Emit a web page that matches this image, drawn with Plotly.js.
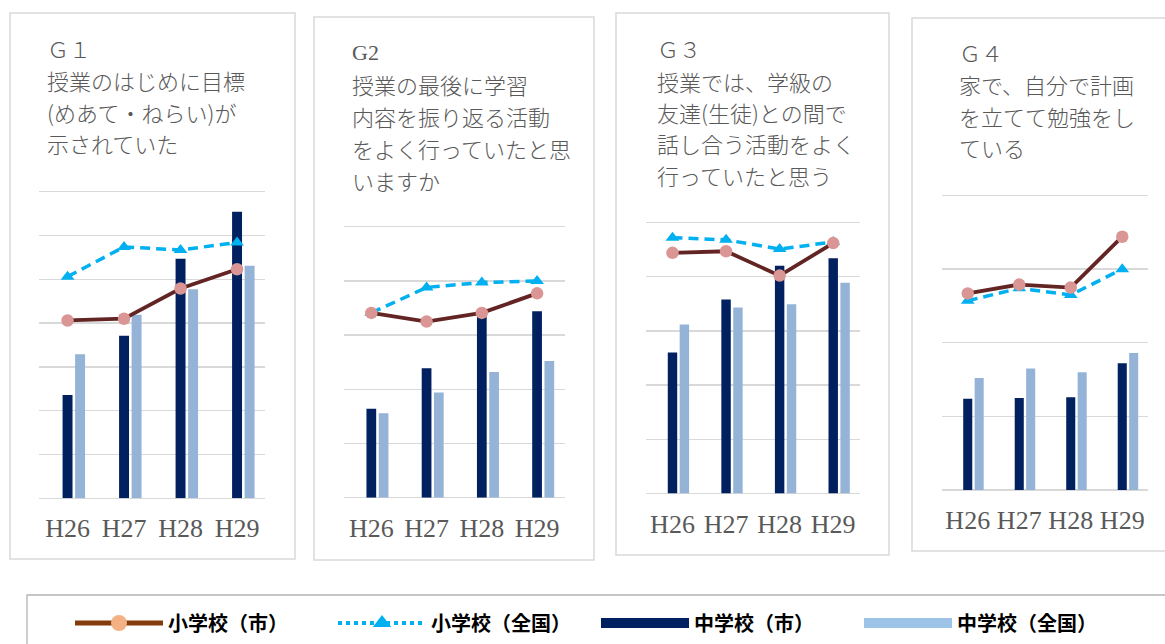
<!DOCTYPE html>
<html>
<head>
<meta charset="utf-8">
<script src="https://cdn.plot.ly/plotly-3.0.1.min.js"></script>
<style>
html,body{margin:0;padding:0;background:#fff;}
#chart{width:1165px;height:644px;}
</style>
</head>
<body>
<div id="chart"></div>
<script>
// ---- data (gridline step = 10) ----
const years = ['H26', 'H27', 'H28', 'H29'];

const g1Title = ['Ｇ１', '授業のはじめに目標', '(めあて・ねらい)が', '示されていた'];
const g1ElemCity = [40.6, 41.0, 47.9, 52.3];
const g1ElemNation = [50.6, 57.4, 56.7, 58.4];
const g1JuniorCity = [23.6, 37.1, 54.7, 65.4];
const g1JuniorNation = [32.9, 41.9, 47.7, 53.1];

const g2Title = ['G2', '授業の最後に学習', '内容を振り返る活動', 'をよく行っていたと思', 'いますか'];
const g2ElemCity = [34.1, 32.5, 34.1, 37.7];
const g2ElemNation = [34.1, 38.8, 39.7, 40.0];
const g2JuniorCity = [16.4, 23.9, 33.7, 34.4];
const g2JuniorNation = [15.6, 19.4, 23.2, 25.2];

const g3Title = ['Ｇ３', '授業では、学級の', '友達(生徒)との間で', '話し合う活動をよく', '行っていたと思う'];
const g3ElemCity = [44.4, 44.7, 40.2, 46.2];
const g3ElemNation = [47.2, 46.8, 45.1, 46.4];
const g3JuniorCity = [26.0, 35.8, 42.0, 43.4];
const g3JuniorNation = [31.2, 34.3, 34.9, 38.9];

const g4Title = ['Ｇ４', '家で、自分で計画', 'を立てて勉強をし', 'ている'];
const g4ElemCity = [26.7, 27.9, 27.5, 34.4];
const g4ElemNation = [25.7, 27.4, 26.5, 30.0];
const g4JuniorCity = [12.4, 12.5, 12.6, 17.2];
const g4JuniorNation = [15.2, 16.5, 16.0, 18.6];

const seriesNames = ['小学校（市）', '小学校（全国）', '中学校（市）', '中学校（全国）'];

// ---- layout helpers ----
const W = 1165, H = 644;
const px = x => x / W;
const py = y => 1 - y / H;

// bar geometry in category units: dark bar centred on the category,
// light bar one slot to the right (as in the original chart)
const BAR_W = 0.176, SLOT = 0.222;
const TOP_PAD = 0.012; // small headroom so the top gridline is drawn

const panels = [
  {title: g1Title, ec: g1ElemCity, en: g1ElemNation, jc: g1JuniorCity, jn: g1JuniorNation,
   x0: 39.3, x1: 265.3, yb: 498.3, yt: 191.7, ymax: 70,
   box: [10, 13, 295, 559], tx: 45, ty: [48, 80, 112, 143]},
  {title: g2Title, ec: g2ElemCity, en: g2ElemNation, jc: g2JuniorCity, jn: g2JuniorNation,
   x0: 343.7, x1: 564.7, yb: 497.7, yt: 226.7, ymax: 50,
   box: [314, 17, 594, 560], tx: 350, ty: [52, 84, 116, 148, 180]},
  {title: g3Title, ec: g3ElemCity, en: g3ElemNation, jc: g3JuniorCity, jn: g3JuniorNation,
   x0: 645.7, x1: 860, yb: 493.5, yt: 222.5, ymax: 50,
   box: [616, 13, 889, 555], tx: 655, ty: [48, 81, 112, 143, 175]},
  {title: g4Title, ec: g4ElemCity, en: g4ElemNation, jc: g4JuniorCity, jn: g4JuniorNation,
   x0: 942, x1: 1148, yb: 490, yt: 195.5, ymax: 40,
   box: [912, 18, 1180, 551], tx: 957, ty: [52, 84, 116, 147]}
];

const COL_EC_LINE = '#632523', COL_EC_MARK = '#d99694';
const COL_EN = '#00b0f0';
const COL_JC = '#002060', COL_JN = '#95b3d7';

const traces = [];
const layout = {
  width: W, height: H,
  margin: {l: 0, r: 0, t: 0, b: 0},
  paper_bgcolor: '#ffffff', plot_bgcolor: 'rgba(0,0,0,0)',
  barmode: 'overlay',
  showlegend: true,
  legend: {
    orientation: 'h', x: px(70), xanchor: 'left', y: py(623), yanchor: 'middle',
    font: {family: 'Noto Sans CJK JP', size: 20, color: '#000000', weight: 'bold'},
    itemwidth: 88, entrywidth: 160, entrywidthmode: 'pixels',
    bgcolor: 'rgba(0,0,0,0)', itemclick: false, itemdoubleclick: false,
    traceorder: 'normal'
  },
  shapes: [], annotations: []
};

panels.forEach((p, i) => {
  const n = i + 1;
  const xa = 'x' + (n === 1 ? '' : n), ya = 'y' + (n === 1 ? '' : n);
  const xKey = 'xaxis' + (n === 1 ? '' : n), yKey = 'yaxis' + (n === 1 ? '' : n);
  const rTop = p.ymax * (1 + TOP_PAD);
  const domTopPx = p.yb - (p.yb - p.yt) * (1 + TOP_PAD);
  layout[xKey] = {
    domain: [px(p.x0), px(p.x1)], anchor: ya, type: 'category',
    categoryarray: years, range: [-0.5, 3.5],
    showgrid: false, zeroline: false, showline: false, ticks: '',
    tickfont: {family: 'Liberation Serif', size: 26, color: '#595959'},
    ticklabelstandoff: 12, fixedrange: true
  };
  layout[yKey] = {
    domain: [py(p.yb), py(domTopPx)], anchor: xa, range: [0, rTop], dtick: 10,
    showticklabels: false, ticks: '', showline: false,
    gridcolor: '#d9d9d9', gridwidth: 1.3,
    zeroline: true, zerolinecolor: '#d9d9d9', zerolinewidth: 1.3, fixedrange: true
  };
  traces.push({type: 'bar', x: years, y: p.jc, xaxis: xa, yaxis: ya,
    width: BAR_W, offset: -BAR_W / 2,
    marker: {color: COL_JC, line: {width: 0}}, showlegend: false, hoverinfo: 'y'});
  traces.push({type: 'bar', x: years, y: p.jn, xaxis: xa, yaxis: ya,
    width: BAR_W, offset: SLOT - BAR_W / 2,
    marker: {color: COL_JN, line: {width: 0}}, showlegend: false, hoverinfo: 'y'});
  traces.push({type: 'scatter', mode: 'lines+markers', x: years, y: p.en, xaxis: xa, yaxis: ya,
    line: {color: COL_EN, width: 3.5, dash: '10px,6px'},
    marker: {symbol: 'triangle-up', size: 12, color: COL_EN},
    cliponaxis: false, showlegend: false, hoverinfo: 'y'});
  traces.push({type: 'scatter', mode: 'lines+markers', x: years, y: p.ec, xaxis: xa, yaxis: ya,
    line: {color: COL_EC_LINE, width: 3.8},
    marker: {symbol: 'circle', size: 12.5, color: COL_EC_MARK},
    cliponaxis: false, showlegend: false, hoverinfo: 'y'});

  // panel border
  layout.shapes.push({type: 'rect', xref: 'paper', yref: 'paper', layer: 'below',
    x0: px(p.box[0]), x1: px(p.box[2]), y0: py(p.box[3]), y1: py(p.box[1]),
    line: {color: '#d9d9d9', width: 1.5}, fillcolor: 'rgba(0,0,0,0)'});

  // title lines
  p.title.forEach((t, k) => {
    const serif = (k === 0 && n === 2);
    layout.annotations.push({
      xref: 'paper', yref: 'paper', x: px(p.tx), y: py(p.ty[k]),
      xanchor: 'left', yanchor: 'middle', showarrow: false, text: t,
      font: {family: serif ? 'Liberation Serif' : 'Noto Sans CJK JP',
             size: 22, color: '#595959', weight: serif ? 400 : 300}
    });
  });
});

// legend box
layout.shapes.push({type: 'rect', xref: 'paper', yref: 'paper', layer: 'below',
  x0: px(27), x1: px(1185), y0: py(660), y1: py(595),
  line: {color: '#b4b4b4', width: 1.3}, fillcolor: 'rgba(0,0,0,0)'});

// legend entries (styles as shown in the reference legend)
traces.push({type: 'scatter', mode: 'lines+markers', name: seriesNames[0], x: [null], y: [null],
  line: {color: '#843c0c', width: 5}, marker: {symbol: 'circle', size: 24, color: '#f4b183'}});
traces.push({type: 'scatter', mode: 'lines+markers', name: seriesNames[1], x: [null], y: [null],
  line: {color: COL_EN, width: 4, dash: 'dot'}, marker: {symbol: 'triangle-up', size: 18, color: COL_EN}});
traces.push({type: 'scatter', mode: 'lines', name: seriesNames[2], x: [null], y: [null],
  line: {color: COL_JC, width: 20}});
traces.push({type: 'scatter', mode: 'lines', name: seriesNames[3], x: [null], y: [null],
  line: {color: '#9dc3e6', width: 20}});

Plotly.newPlot('chart', traces, layout, {staticPlot: true, displayModeBar: false});
</script>
</body>
</html>
